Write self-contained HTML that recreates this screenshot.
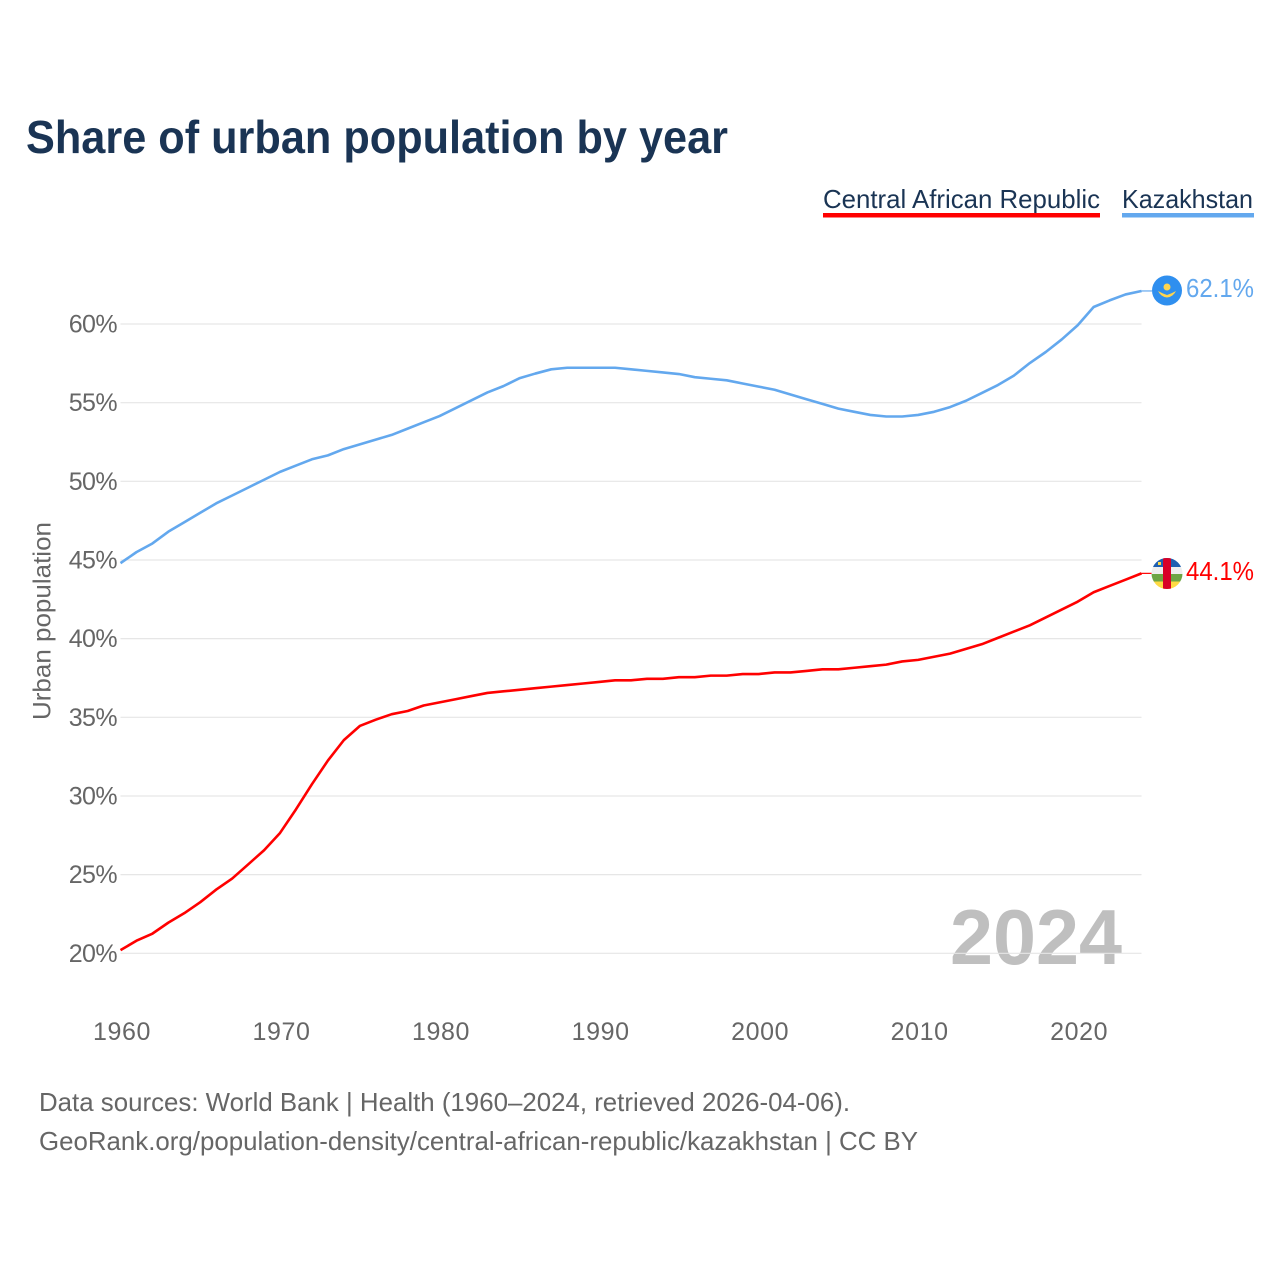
<!DOCTYPE html>
<html lang="en">
<head>
<meta charset="utf-8">
<title>Share of urban population by year</title>
<style>
  html, body { margin: 0; padding: 0; background: #fff; }
  svg { display: block; font-family: "Liberation Sans", sans-serif; }
</style>
</head>
<body>
<svg id="chart" xmlns="http://www.w3.org/2000/svg" width="1280" height="1280" viewBox="0 0 1280 1280">
  <defs>
    <clipPath id="flag-clip-car"><circle cx="1167" cy="573.5" r="15.5"></circle></clipPath>
  </defs>
  <rect x="0" y="0" width="1280" height="1280" fill="#ffffff"></rect>

  <text x="26" y="153" font-size="46" font-weight="700" fill="#1a3454" textLength="702" lengthAdjust="spacingAndGlyphs">Share of urban population by year</text>

  <g>
    <g>
      <text x="823" y="208" font-size="26" fill="#1a3454" textLength="277" lengthAdjust="spacingAndGlyphs">Central African Republic</text>
      <rect x="823" y="213" width="277" height="4.5" fill="#ff0000"></rect>
    </g>
    <g>
      <text x="1122" y="208" font-size="26" fill="#1a3454" textLength="131" lengthAdjust="spacingAndGlyphs">Kazakhstan</text>
      <rect x="1122" y="213" width="132" height="4.5" fill="#63a8ee"></rect>
    </g>
  </g>

  <text x="950" y="964" font-size="78" font-weight="700" fill="#bfbfbf" textLength="172" lengthAdjust="spacingAndGlyphs">2024</text>

  <g id="grid"></g>
  <g id="y-axis"></g>
  <g id="x-axis"></g>

  <text transform="translate(50.5 720) rotate(-90)" x="0" y="0" font-size="25" fill="#666666" textLength="198" lengthAdjust="spacingAndGlyphs">Urban population</text>

  <g id="series"></g>

  <g>
    <circle cx="1167" cy="290.5" r="15" fill="#2f8fef"></circle>
    <circle cx="1167" cy="287" r="3.5" fill="#ffd54f"></circle>
    <path d="M1158 291 L1163 293.5 L1167 295 L1171 293.5 L1176 291 Q1173 297 1167 297.5 Q1161 297 1158 291 Z" fill="#ffd54f"></path>
  </g>

  <g clip-path="url(#flag-clip-car)">
    <rect x="1151" y="558" width="32" height="9" fill="#1f5fb0"></rect>
    <rect x="1151" y="567" width="32" height="7" fill="#eeeeee"></rect>
    <rect x="1151" y="574" width="32" height="7.5" fill="#6da544"></rect>
    <rect x="1151" y="581.5" width="32" height="8" fill="#ffda44"></rect>
    <rect x="1163" y="558" width="8" height="32" fill="#d80027"></rect>
    <rect x="1158" y="562" width="3" height="3" fill="#ffda44"></rect>
  </g>

  <text x="1186" y="297" font-size="26" fill="#63a8ee" textLength="68" lengthAdjust="spacingAndGlyphs">62.1%</text>
  <text x="1186" y="580" font-size="26" fill="#ff0000" textLength="68" lengthAdjust="spacingAndGlyphs">44.1%</text>

  <text x="39" y="1111" font-size="26" fill="#666666" textLength="811" lengthAdjust="spacingAndGlyphs">Data sources: World Bank | Health (1960–2024, retrieved 2026-04-06).</text>
  <text x="39" y="1150" font-size="26" fill="#666666" textLength="879" lengthAdjust="spacingAndGlyphs">GeoRank.org/population-density/central-african-republic/kazakhstan | CC BY</text>
</svg>

<script>
const startYear = 1960;
const yTickValues = [20, 25, 30, 35, 40, 45, 50, 55, 60];
const xTickValues = [1960, 1970, 1980, 1990, 2000, 2010, 2020];
const kazakhstanValues = [
  44.8, 45.5, 46.05, 46.8, 47.4, 48.0, 48.6, 49.1, 49.6, 50.1,
  50.6, 51.0, 51.4, 51.65, 52.05, 52.35, 52.65, 52.95, 53.35, 53.75,
  54.15, 54.65, 55.15, 55.65, 56.05, 56.55, 56.85, 57.12, 57.22, 57.22,
  57.22, 57.22, 57.12, 57.02, 56.92, 56.82, 56.62, 56.52, 56.42, 56.22,
  56.02, 55.82, 55.52, 55.22, 54.92, 54.62, 54.42, 54.22, 54.12, 54.12,
  54.22, 54.42, 54.72, 55.12, 55.62, 56.12, 56.72, 57.52, 58.22, 59.02,
  59.92, 61.08, 61.5, 61.88, 62.1
];
const centralAfricanRepublicValues = [
  20.2, 20.8, 21.25, 21.95, 22.55, 23.25, 24.05, 24.75, 25.65, 26.55,
  27.65, 29.15, 30.75, 32.25, 33.55, 34.45, 34.85, 35.2, 35.4, 35.75,
  35.95, 36.15, 36.35, 36.55, 36.65, 36.75, 36.85, 36.95, 37.05, 37.15,
  37.25, 37.35, 37.35, 37.45, 37.45, 37.55, 37.55, 37.65, 37.65, 37.75,
  37.75, 37.85, 37.85, 37.95, 38.05, 38.05, 38.15, 38.25, 38.35, 38.55,
  38.65, 38.85, 39.05, 39.35, 39.65, 40.05, 40.45, 40.85, 41.35, 41.85,
  42.35, 42.95, 43.35, 43.75, 44.15
];

const NS = 'http://www.w3.org/2000/svg';
const xLeft = 120.5, xRight = 1141.5;
const yAt60 = 324, yAt20 = 953.3;

function xScale(year) {
  return xLeft + (year - startYear) * (xRight - xLeft) / 64;
}
function yScale(value) {
  return yAt20 - (value - 20) * (yAt20 - yAt60) / 40;
}

const gridGroup = document.getElementById('grid');
const yAxisGroup = document.getElementById('y-axis');
const xAxisGroup = document.getElementById('x-axis');
const seriesGroup = document.getElementById('series');

yTickValues.forEach(function (tick) {
  const line = document.createElementNS(NS, 'line');
  
  
  line.setAttribute('x1', xLeft);
  line.setAttribute('x2', xRight);
  line.setAttribute('y1', yScale(tick));
  line.setAttribute('y2', yScale(tick));
  line.setAttribute('stroke', '#e6e6e6');
  line.setAttribute('stroke-width', '1.2');
  gridGroup.appendChild(line);

  const label = document.createElementNS(NS, 'text');
  
  
  label.setAttribute('x', 117);
  label.setAttribute('y', yScale(tick) + 8.5);
  label.setAttribute('text-anchor', 'end');
  label.setAttribute('font-size', '25');
  label.setAttribute('letter-spacing', '-0.6');
  label.setAttribute('fill', '#666666');
  label.textContent = tick + '%';
  yAxisGroup.appendChild(label);
});

xTickValues.forEach(function (tick) {
  const label = document.createElementNS(NS, 'text');
  
  
  label.setAttribute('x', xScale(tick) + 1.5);
  label.setAttribute('y', 1040);
  label.setAttribute('text-anchor', 'middle');
  label.setAttribute('font-size', '25');
  label.setAttribute('letter-spacing', '0.6');
  label.setAttribute('fill', '#666666');
  label.textContent = tick;
  xAxisGroup.appendChild(label);
});

function buildPoints(values) {
  return values.map(function (value, i) {
    return xScale(startYear + i).toFixed(2) + ',' + yScale(value).toFixed(2);
  }).join(' ');
}

const kazakhstanLine = document.createElementNS(NS, 'polyline');


kazakhstanLine.setAttribute('points', buildPoints(kazakhstanValues));
kazakhstanLine.setAttribute('fill', 'none');
kazakhstanLine.setAttribute('stroke', '#63a8ee');
kazakhstanLine.setAttribute('stroke-width', '2.6');
kazakhstanLine.setAttribute('stroke-linejoin', 'round');
seriesGroup.appendChild(kazakhstanLine);

const carLine = document.createElementNS(NS, 'polyline');


carLine.setAttribute('points', buildPoints(centralAfricanRepublicValues));
carLine.setAttribute('fill', 'none');
carLine.setAttribute('stroke', '#ff0000');
carLine.setAttribute('stroke-width', '2.6');
carLine.setAttribute('stroke-linejoin', 'round');
seriesGroup.appendChild(carLine);

const kazakhstanLeader = document.createElementNS(NS, 'line');


kazakhstanLeader.setAttribute('x1', xRight);
kazakhstanLeader.setAttribute('x2', 1152);
kazakhstanLeader.setAttribute('y1', yScale(kazakhstanValues[kazakhstanValues.length - 1]));
kazakhstanLeader.setAttribute('y2', yScale(kazakhstanValues[kazakhstanValues.length - 1]));
kazakhstanLeader.setAttribute('stroke', '#63a8ee');
kazakhstanLeader.setAttribute('stroke-width', '1.2');
seriesGroup.appendChild(kazakhstanLeader);

const carLeader = document.createElementNS(NS, 'line');


carLeader.setAttribute('x1', xRight);
carLeader.setAttribute('x2', 1152);
carLeader.setAttribute('y1', yScale(centralAfricanRepublicValues[centralAfricanRepublicValues.length - 1]));
carLeader.setAttribute('y2', yScale(centralAfricanRepublicValues[centralAfricanRepublicValues.length - 1]));
carLeader.setAttribute('stroke', '#ff0000');
carLeader.setAttribute('stroke-width', '1.2');
seriesGroup.appendChild(carLeader);
</script>
</body>
</html>
